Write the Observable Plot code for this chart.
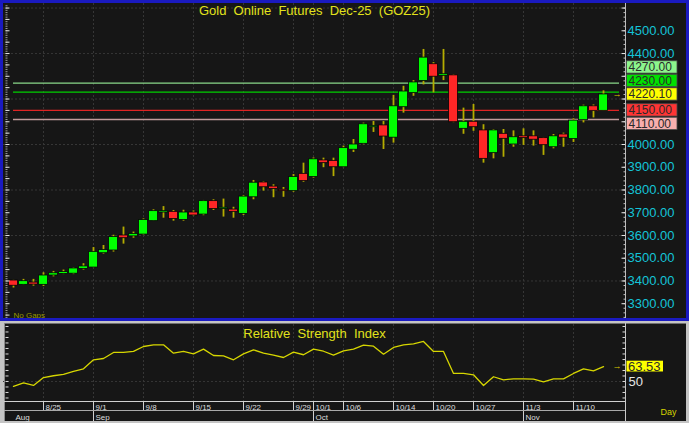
<!DOCTYPE html>
<html><head><meta charset="utf-8">
<script src="https://cdn.jsdelivr.net/npm/d3@7"></script>
<script src="https://cdn.jsdelivr.net/npm/@observablehq/plot@0.6"></script>
<style>
html,body{margin:0;padding:0;background:#c4c4c4;}
#root{position:relative;width:689px;height:423px;overflow:hidden;background:#c4c4c4;font-family:"Liberation Sans",Arial,sans-serif;}
.abs{position:absolute;}
#root svg text{white-space:pre;}
</style></head>
<body>
<div id="root">
  <div class="abs" style="left:0;top:0;width:689px;height:321px;background:#161616"></div>
  <div class="abs" style="left:4px;top:323px;width:682px;height:98px;background:#161616"></div>
  <div class="abs" id="main" style="left:0;top:0"></div>
  <div class="abs" id="pax" style="left:625px;top:0"></div>
  <div class="abs" id="rsi" style="left:0;top:323px"></div>
  <div class="abs" id="rax" style="left:625px;top:323px"></div>
  <div class="abs" style="left:625px;top:3px;width:1px;height:315px;background:#bdbdbd"></div>
  <div class="abs" style="left:4px;top:323px;width:682px;height:1px;background:#707070"></div>
  <div class="abs" style="left:4px;top:323px;width:1px;height:98px;background:#8a8a8a"></div>
  <div class="abs" style="left:625px;top:323px;width:1px;height:98px;background:#c8c8c8"></div>
  <div class="abs" style="left:4px;top:401px;width:621px;height:1px;background:#d0d0d0"></div>
  <div class="abs" style="left:4px;top:410px;width:621px;height:1px;background:#a8a8a8"></div>
  <div class="abs" style="left:0;top:0;width:689px;height:321px;box-sizing:border-box;border:3px solid #1a1ac0;pointer-events:none"></div>
</div>
<script>
// ---------------- data ----------------
const dates = ["8/20","8/21","8/22","8/25","8/26","8/27","8/28","8/29",
  "9/1","9/2","9/3","9/4","9/5","9/8","9/9","9/10","9/11","9/12",
  "9/15","9/16","9/17","9/18","9/19","9/22","9/23","9/24","9/25","9/26",
  "9/29","9/30","10/1","10/2","10/3","10/6","10/7","10/8","10/9","10/10",
  "10/14","10/15","10/16","10/17","10/20","10/21","10/22","10/23",
  "10/27","10/28","10/29","10/30","10/31","11/3","11/4","11/5","11/6","11/7",
  "11/10","11/11","11/12","11/13"];
const open  = [3402,3383,3393,3383,3424,3431,3432,3453,3459,3522,3534,3600,3596,3604,3663,3701,3704,3668,3701,3692,
  3751,3716,3714,3695,3768,3833,3815,3801,3795,3871,3857,3930,3928,3900,3977,4003,4076,4084,4030,4164,
  4226,4279,4353,4302,4304,4069,4100,4062,3962,4047,4000,4036,4036,4028,3988,4044,4024,4107,4168,4148];
const high  = [3403,3407,3407,3436,3442,3448,3457,3476,3547,3556,3601,3637,3615,3673,3713,3727,3710,3711,3708,3754,
  3757,3760,3724,3776,3842,3836,3823,3811,3868,3918,3941,3940,3940,3993,4022,4094,4101,4101,4216,4256,
  4281,4418,4360,4418,4306,4160,4176,4087,4066,4066,4060,4069,4060,4030,4044,4050,4113,4173,4174,4236];
const low   = [3369,3382,3377,3376,3418,3428,3428,3448,3458,3518,3527,3562,3588,3601,3662,3676,3663,3663,3685,3687,
  3710,3681,3676,3688,3757,3795,3766,3768,3790,3834,3852,3898,3859,3898,3965,3999,4053,3978,4006,4138,
  4212,4262,4227,4281,4096,4045,4058,3918,3937,3944,3988,3996,3993,3952,3981,3988,4009,4095,4117,4147];
const close = [3379,3399,3384,3424,3434,3439,3455,3464,3528,3536,3593,3588,3607,3668,3707,3707,3672,3701,3688,3751,
  3716,3722,3704,3771,3832,3812,3804,3795,3857,3839,3935,3918,3900,3984,4000,4089,4082,4035,4168,4233,
  4273,4382,4298,4309,4098,4100,4076,3937,4062,4025,4032,4028,4021,3997,4036,4030,4105,4168,4148,4220.10];
const rsi   = [45.5,48.8,46.4,53.6,55.2,56.4,59.1,61.5,69.7,70.9,76.4,76.4,77.3,81.8,83.3,83.3,75.7,77.3,75.1,79.4,
  73.6,73.3,69.7,75.1,78.8,75.7,73.9,71.8,76.7,74.3,79.4,77.5,73.9,77.8,79.4,83.0,82.1,74.8,80.9,83.3,
  84.2,86.4,77.3,77.3,57.3,57.3,56.1,46.4,54.3,51.5,52.4,52.4,52.1,49.7,52.4,52.4,57.3,61.5,59.7,63.53];
const weekTicks = ["8/25","9/1","9/8","9/15","9/22","9/29","10/1","10/6","10/14","10/20","10/27","11/3","11/10"];
const monthNames = ["Aug","Sep","Oct","Nov"];
const priceTicks = [3300,3400,3500,3600,3700,3800,3900,4000,4100,4200,4300,4400,4500];
const priceGrid = [3400,3600,3800,4000,4200,4400,4600];
const levelValues = [4270, 4230, 4150, 4110];
const rsiTicks = [50];
const title = "Gold  Online  Futures  Dec-25  (GOZ25)";
const rsiTitle = "Relative  Strength  Index";

// ---------------- styles ----------------
const FONT = "'Liberation Sans', Arial, sans-serif";
const STYLE = {background: "transparent", fontFamily: FONT, overflow: "visible"};
const UP = "#00ff00", DOWN = "#ff2626", WICK = "#b4ac00";
const GRID = "#363636";
const CYAN = "#14c4d8";
const levelLine = ["#8ad88a", "#00d000", "#e02424", "#c09a9a"];
const levelBox  = ["#8cf58c", "#00e000", "#ff3434", "#f7aeae"];
const lastBox = "#ffff00";
const Y_DOMAIN = [3235, 4620];
const R_DOMAIN = [31.8, 101.8];

// ---------------- derived ----------------
const n = dates.length;
const candles = dates.map((d, i) => ({i, date: d, open: open[i], high: high[i], low: low[i], close: close[i]}));
const tickIdx = weekTicks.map(t => dates.indexOf(t));
const monthIdx = dates.map((d, i) => i).filter(i => i === 0 || dates[i].split("/")[0] !== dates[i - 1].split("/")[0]);
const last = close[n - 1];
const lastRsi = rsi[n - 1];
const levels = levelValues.map((v, k) => ({v, color: levelLine[k], bg: levelBox[k]}));

// label boxes stacked to avoid overlap around the last price
const yPx = d3.scaleLinear([Y_DOMAIN[1], Y_DOMAIN[0]], [3, 318]);
const boxH = 13.5;
const anchorPy = yPx(last);
const boxes = [{v: last, bg: lastBox, py: anchorPy}];
let prev = anchorPy;
levels.filter(l => l.v > last).sort((a, b) => a.v - b.v).forEach(l => {
  const py = Math.min(yPx(l.v), prev - boxH); prev = py; boxes.push({v: l.v, bg: l.bg, py});
});
prev = anchorPy;
levels.filter(l => l.v < last).sort((a, b) => b.v - a.v).forEach(l => {
  const py = Math.max(yPx(l.v), prev + boxH); prev = py; boxes.push({v: l.v, bg: l.bg, py});
});
boxes.forEach(b => { b.ly = yPx.invert(b.py); b.lo = yPx.invert(b.py + boxH / 2 - 0.6); b.hi = yPx.invert(b.py - boxH / 2 + 0.6); });
// axis labels covered by the level boxes are hidden
const shownTicks = priceTicks.filter(t => !boxes.some(b => Math.abs(yPx(t) - b.py) < 9));

// ---------------- main price panel ----------------
const A = Plot.plot({
  width: 625, height: 321, marginTop: 3, marginBottom: 3, marginLeft: 3, marginRight: 0,
  x: {domain: [-1, 61.2], axis: null},
  y: {domain: Y_DOMAIN, axis: null, label: null},
  style: STYLE,
  marks: [
    Plot.ruleY(priceGrid, {stroke: GRID, strokeDasharray: "2,2"}),
    Plot.ruleX(tickIdx, {stroke: GRID, strokeDasharray: "2,2"}),
    Plot.ruleY(levels, {y: "v", x1: 0, x2: n + 0.6, stroke: "color", strokeWidth: 1.3}),
    Plot.ruleX(candles, {x: "i", y1: "low", y2: "high", stroke: WICK, strokeWidth: 1.8}),
    Plot.rect(candles, {x1: d => d.i - 0.44, x2: d => d.i + 0.44, y1: "open", y2: "close",
      fill: d => d.close >= d.open ? UP : DOWN, stroke: "#050505", strokeWidth: 0.8}),
    Plot.text([title], {text: d => d, frameAnchor: "top", lineAnchor: "top", dy: 2, fill: "#e2e21c", fontSize: 13}),
    Plot.text(["No Gaps"], {text: d => d, frameAnchor: "bottom-left", textAnchor: "start", lineAnchor: "bottom", dx: 10, dy: -1, fill: "#9a9a00", fontSize: 8}),
    Plot.text([last], {x: () => n + 0.35, y: d => d, text: () => "→", fill: "#d8c800", fontSize: 9}),
    Plot.axisY(d3.range(3240, 4620, 10), {anchor: "left", tickSize: 2, insetLeft: 4.5, stroke: "#9a9a9a", fill: "none", label: null}),
    Plot.axisY(d3.range(3250, 4620, 50), {anchor: "left", tickSize: 4, insetLeft: 6.5, stroke: "#e6e6e6", fill: "none", label: null}),
    Plot.axisY(d3.range(3240, 4620, 20), {anchor: "right", tickSize: 2, insetRight: 2.5, stroke: "#bdbdbd", fill: "none", label: null}),
    Plot.axisY(d3.range(3300, 4620, 100), {anchor: "right", tickSize: 4, insetRight: 4.5, stroke: "#e6e6e6", fill: "none", label: null})
  ]
});
document.getElementById("main").appendChild(A);

// ---------------- price axis column ----------------
const B = Plot.plot({
  width: 64, height: 321, marginTop: 3, marginBottom: 3, marginLeft: 0, marginRight: 0,
  x: {domain: [0, 1], axis: null},
  y: {domain: Y_DOMAIN, axis: null, label: null},
  style: STYLE,
  marks: [
    Plot.text(shownTicks, {y: d => d, text: d => d.toFixed(2), frameAnchor: "left", textAnchor: "start", dx: 2, fill: CYAN, fontSize: 13}),
    Plot.rect(boxes, {y1: "lo", y2: "hi", fill: "bg", stroke: "#4a4a4a", strokeWidth: 0.8, insetLeft: 1.5, insetRight: 12}),
    Plot.text(boxes, {y: "ly", text: d => d.v.toFixed(2), frameAnchor: "left", textAnchor: "start", dx: 3, fill: "#2a2a2a", fontSize: 12})
  ]
});
document.getElementById("pax").appendChild(B);

// ---------------- RSI panel with date axis ----------------
const C = Plot.plot({
  width: 625, height: 100, marginTop: 1, marginBottom: 22, marginLeft: 3, marginRight: 0,
  x: {domain: [-1, 61.2], axis: null},
  y: {domain: R_DOMAIN, axis: null, label: null},
  style: STYLE,
  marks: [
    Plot.ruleY(rsiTicks, {stroke: GRID, strokeDasharray: "2,2"}),
    Plot.ruleX(tickIdx, {stroke: GRID, strokeDasharray: "2,2"}),
    Plot.line(rsi, {x: (d, i) => i, y: d => d, stroke: "#d6d600", strokeWidth: 1.3}),
    Plot.text([rsiTitle], {text: d => d, frameAnchor: "top", lineAnchor: "top", dy: 4, fill: "#e2e21c", fontSize: 13}),
    Plot.text([lastRsi], {x: () => n + 0.35, y: d => d, text: () => "→", fill: "#d8c800", fontSize: 9}),
    Plot.axisY(d3.range(35, 101, 5), {anchor: "left", tickSize: 3, insetLeft: 5.5, stroke: "#dcdcdc", fill: "none", label: null}),
    Plot.axisY(d3.range(35, 101, 5), {anchor: "right", tickSize: 3, insetRight: 3.5, stroke: "#dcdcdc", fill: "none", label: null}),
    Plot.axisX(tickIdx, {anchor: "bottom", tickSize: 9, stroke: "#d0d0d0", fill: "none", label: null}),
    Plot.axisX(monthIdx.slice(1), {anchor: "bottom", tickSize: 20, stroke: "#d0d0d0", fill: "none", label: null}),
    Plot.text(tickIdx, {x: d => d, text: d => dates[d], frameAnchor: "bottom", textAnchor: "start", lineAnchor: "middle", dx: 2, dy: 5.5, fill: "#dedede", fontSize: 8}),
    Plot.text(monthIdx, {x: d => d, text: (d, k) => monthNames[k], frameAnchor: "bottom", textAnchor: "start", lineAnchor: "middle", dx: 2, dy: 15.5, fill: "#dedede", fontSize: 8})
  ]
});
document.getElementById("rsi").appendChild(C);

// ---------------- RSI axis column ----------------
const D = Plot.plot({
  width: 64, height: 100, marginTop: 1, marginBottom: 22, marginLeft: 0, marginRight: 0,
  x: {domain: [0, 1], axis: null},
  y: {domain: R_DOMAIN, axis: null, label: null},
  style: STYLE,
  marks: [
    Plot.text(rsiTicks, {y: d => d, text: d => String(d), frameAnchor: "left", textAnchor: "start", dx: 3, fill: "#e6e6e6", fontSize: 13}),
    Plot.rect([lastRsi], {y1: d => d - 4.9, y2: d => d + 4.9, fill: lastBox, insetLeft: 1.5, insetRight: 26}),
    Plot.text([lastRsi], {y: d => d, text: d => d.toFixed(2), frameAnchor: "left", textAnchor: "start", dx: 2.5, fill: "#2a2a2a", fontSize: 13}),
    Plot.text(["Day"], {text: d => d, frameAnchor: "bottom-right", textAnchor: "end", lineAnchor: "middle", dx: -13, dy: 10.5, fill: "#d4d400", fontSize: 9})
  ]
});
document.getElementById("rax").appendChild(D);
</script>
</body></html>
